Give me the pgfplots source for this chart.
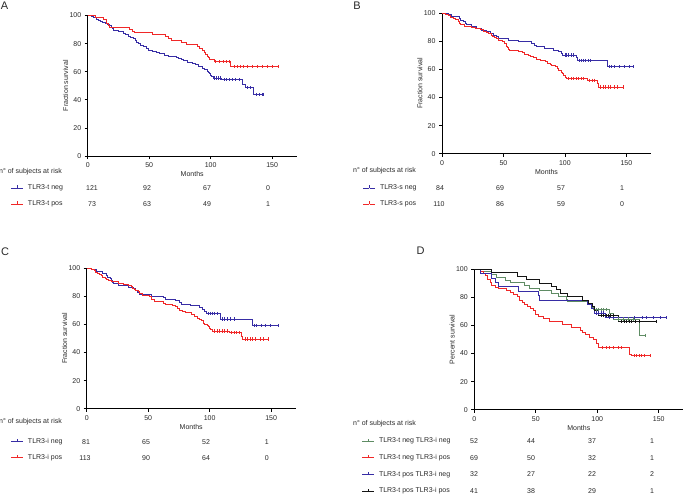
\documentclass[border=0pt]{standalone}
\usepackage{fontspec}
\setmainfont{Liberation Sans}
\usepackage{pgfplots}
\pgfplotsset{compat=1.18}
\definecolor{kmblue}{RGB}{55,45,165}
\definecolor{kmred}{RGB}{240,40,40}
\definecolor{kmgreen}{RGB}{95,140,100}
\definecolor{kmblack}{RGB}{20,20,20}
\definecolor{txt}{RGB}{40,40,40}
\newcommand{\sm}{\fontsize{7bp}{8bp}\selectfont}
\newcommand{\glyph}[1]{\textcolor{#1}{\rule[1.3bp]{5.5bp}{0.8bp}\rule[1.3bp]{0.8bp}{3bp}\rule[1.3bp]{5.5bp}{0.8bp}}}
\pgfplotsset{
  km/.style={scale only axis, width=209bp, height=140.5bp,
    xmin=0, xmax=170, ymin=0, ymax=100,
    axis lines*=left, axis line style={-, line width=0.9bp, black},
    tick align=outside, major tick length=3bp,
    tick style={line width=0.7bp, black},
    xtick={0,50,100,150}, ytick={0,20,40,60,80,100},
    tick label style={font=\sm, text=txt},
    /pgf/number format/assume math mode=true,
    xlabel={Months},
    xlabel style={font=\sm, text=txt, at={(axis description cs:0.5,0)}, anchor=center, yshift=-18bp},
    ylabel style={font=\sm, text=txt, at={(axis description cs:-0.106,0.5)}, anchor=center},
    clip=false},
  km line/.style={const plot, line width=0.8bp},
  cens/.style={only marks, mark=|, mark size=1.6bp, mark options={line width=0.7bp}, forget plot}
}
\begin{document}
\begin{tikzpicture}
\path[use as bounding box] (0,0) rectangle (685bp,-495bp);

% ---------------- A
\begin{axis}[km, at={(87.7bp,-156bp)}, anchor=south west, ylabel={Fraction survival}]
\addplot[km line, kmblue] coordinates {(0,100)(3,99.2)(5,98.3)(7,97.5)(9,96.7)(10,95.9)(12,95)(14,94.2)(16,93.4)(18,92.6)(19,91.7)(20,90.9)(21,89.3)(25,88.4)(29,87.6)(31,86.8)(33,85.1)(35,84.3)(37,83.5)(39,82.6)(40,81)(41,80.2)(43,78.5)(45,77.7)(48,76.9)(49,75.2)(53,74.4)(56,73.5)(58,72.7)(62,71.9)(66,71)(72,70.2)(74,69.4)(76,68.5)(78,67.7)(81,66.9)(85,66)(88,65.2)(90,63.5)(93,62.7)(95,61.8)(97,60.2)(98,59.3)(99,58.5)(100,57.6)(101,56.8)(102,55.5)(109,54.2)(126,50.8)(128,48.5)(135,43.8)(143,43.8)};
\addplot[cens, kmblue] coordinates {(103,55.5)(105,55.5)(106.5,55.5)(108,55.5)(111,54.2)(112.5,54.2)(115,54.2)(118,54.2)(120.5,54.2)(123,54.2)(130,48.5)(132.5,48.5)(137,43.8)(139.5,43.8)(142,43.8)(143,43.8)};
\addplot[km line, kmred] coordinates {(0,100)(6,98.6)(13,97.3)(15,94.5)(17,93.2)(18,91.8)(34,90.4)(36,89)(38,87.7)(53,86.3)(63,84.9)(66,83.5)(68,82.2)(76,80.8)(80,79.5)(89,78.1)(91,76.7)(93,75.3)(95,74)(96,72.6)(97,71.2)(98,69.9)(99,68.5)(103,67.1)(116,63.8)(155,63.8)};
\addplot[cens, kmred] coordinates {(104,67.1)(107,67.1)(110,67.1)(112.5,67.1)(115,67.1)(119,63.8)(122,63.8)(124.5,63.8)(127,63.8)(130,63.8)(134,63.8)(138,63.8)(142,63.8)(146,63.8)(150,63.8)(155,63.8)};
\end{axis}

% ---------------- B
\begin{axis}[km, at={(442bp,-153.7bp)}, anchor=south west, ylabel={Fraction survival}]
\addplot[km line, kmblue] coordinates {(0,100)(5,98.8)(8,97.6)(14,96.4)(15,95.2)(17,94)(19,92.9)(20,91.7)(24,90.5)(28,89.3)(32,88.1)(36,86.9)(39,85.7)(42,84.5)(44,83.3)(46,82.1)(54,80.9)(62,79.8)(73,78.6)(75,77.4)(77,76.2)(83,75)(91,73.8)(95,72.6)(97,71.4)(98,70.2)(109,68.5)(110,66.4)(134.6,61.8)(156,61.8)};
\addplot[cens, kmblue] coordinates {(100,70.2)(101.5,70.2)(103,70.2)(105,70.2)(107,70.2)(111.5,66.4)(113,66.4)(115,66.4)(117,66.4)(119,66.4)(121,66.4)(136,61.8)(138,61.8)(140,61.8)(144,61.8)(148,61.8)(152,61.8)(156,61.8)};
\addplot[km line, kmred] coordinates {(0,100)(3,99.1)(5,98.2)(7,97.3)(9,96.4)(11,95.5)(13,94.5)(14,92.7)(15,91.8)(18,90.9)(24,90)(27,89.1)(31,88.2)(34,87.3)(36,86.4)(38,85.5)(40,84.5)(41,83.6)(43,82.7)(44,81.8)(46,80.9)(49,80)(51,78.2)(52,76.4)(53,75.5)(54,74.5)(55,73.6)(62,72.7)(65,71.8)(67,70.9)(70,70)(72,69.1)(74,68.2)(77,67.3)(80,66.4)(84,65.5)(86,64.5)(88,63.6)(89,62.7)(92,61.8)(94,60.5)(95,59.4)(97,58.2)(98,57)(99,55.8)(100,54.6)(101,53.4)(118,52.3)(126,50)(127,47.5)(147.6,47.5)};
\addplot[cens, kmred] coordinates {(103,53.4)(105,53.4)(107,53.4)(109,53.4)(111,53.4)(113,53.4)(115,53.4)(120,52.3)(122,52.3)(124,52.3)(129,47.5)(131,47.5)(133,47.5)(135,47.5)(137,47.5)(140,47.5)(143,47.5)(147.6,47.5)};
\end{axis}

% ---------------- C
\begin{axis}[km, at={(86.7bp,-408.7bp)}, anchor=south west, ylabel={Fraction survival}]
\addplot[km line, kmblue] coordinates {(0,100)(4,98.8)(8,97.5)(13,96.3)(16,95.1)(17,93.8)(19,92.6)(20,91.4)(21,90.1)(22,88.9)(26,88)(34,86.6)(38,85.3)(40,84)(41,82.8)(43,81.5)(53,80.2)(62,79)(64,77.8)(72,77)(75,75.7)(77,74.5)(84,73.3)(92,72)(94,70.8)(96,69.5)(97.5,67.8)(108.7,63.8)(134.5,59.2)(156,59.2)};
\addplot[cens, kmblue] coordinates {(99,67.8)(100.5,67.8)(102,67.8)(104,67.8)(106,67.8)(110,63.8)(112,63.8)(114,63.8)(117,63.8)(120,63.8)(136,59.2)(138,59.2)(142,59.2)(145,59.2)(149,59.2)(156,59.2)};
\addplot[km line, kmred] coordinates {(0,100)(4,99.1)(6,98.2)(7,97.3)(9,96.5)(10,95.6)(12,94.7)(13,93.8)(15,92.9)(16,92)(18,91.2)(20,90.3)(26,89.4)(30,88.5)(34,87.6)(36,86.7)(37,85.8)(39,85)(40,84.1)(42,83.2)(43,82.3)(45,80.5)(51,79.6)(53,77.9)(55,76.1)(62,75.2)(64,74.3)(70,73.5)(72,72.6)(74,71.7)(75,70)(78,69.1)(80,68.2)(85,67.3)(88,65.5)(90,64.6)(92,63.7)(93,62.8)(95,61)(96,60.1)(98,59.2)(99,58.4)(100,57.5)(101,56.6)(102,55.3)(116,54)(126,51.5)(127,49.6)(147.5,49.6)};
\addplot[cens, kmred] coordinates {(104,55.3)(106,55.3)(108,55.3)(110,55.3)(112,55.3)(114,55.3)(118,54)(120,54)(122,54)(124,54)(129,49.6)(131,49.6)(133,49.6)(135,49.6)(137,49.6)(141,49.6)(144,49.6)(147.5,49.6)};
\end{axis}

% ---------------- D
\begin{axis}[km, at={(474.3bp,-409.7bp)}, anchor=south west, ylabel={Percent survival}]
\addplot[km line, kmgreen] coordinates {(0,100)(5,98.1)(14,96.2)(18,94.2)(25,92.3)(29,90.4)(41,88.5)(45,86.5)(53,84.6)(63,82.7)(68,80.8)(75,78.8)(76,76.9)(92,75)(95,73.1)(97,71.2)(110,68.2)(113,64.5)(134.5,53)(139.5,53)};
\addplot[cens, kmgreen] coordinates {(99,71.2)(101,71.2)(103,71.2)(105,71.2)(107,71.2)(117,64.5)(121,64.5)(125,64.5)(129,64.5)(139.5,53)};
\addplot[km line, kmred] coordinates {(0,100)(4.6,98.5)(7,97)(9,95.5)(11,93)(12.7,90.3)(14,88.5)(17,87.2)(20,86.2)(26,84.7)(29,83.3)(32,81.8)(35,80.5)(37,78)(39,76.5)(41,75)(43,73.5)(46,72)(48,70.5)(50,67.7)(52,66.2)(56,64.7)(61,63.2)(72,60.7)(79,58.8)(86,56.5)(88,55)(90,53.5)(93.5,51.5)(96.5,49.8)(99,47.5)(101,44.1)(126.3,39.5)(127.5,38.3)(143,38.3)};
\addplot[cens, kmred] coordinates {(104,44.1)(107,44.1)(110,44.1)(113,44.1)(117,44.1)(120,44.1)(130,38.3)(132,38.3)(134,38.3)(136,38.3)(138,38.3)(143,38.3)};
\addplot[km line, kmblue] coordinates {(0,100)(5,96.9)(14,93.8)(17,90.6)(19.5,87.5)(36,84.4)(52,81.3)(53,78.1)(92,75)(95,71.9)(97.5,68.8)(107,65.5)(156,65.5)};
\addplot[cens, kmblue] coordinates {(99,68.8)(101,68.8)(103,68.8)(105,68.8)(110,65.5)(113,65.5)(130,65.5)(137,65.5)(140,65.5)(146,65.5)(151,65.5)(156,65.5)};
\addplot[km line, kmblack] coordinates {(0,100)(14,97.6)(35,95.1)(42,92.7)(53,90.2)(63,87.8)(67,85.4)(70,82.9)(76,80.5)(88,78)(93,75.6)(96,73.2)(98,70.7)(101,67.2)(117,63)(148,63)};
\addplot[cens, kmblack] coordinates {(103,67.2)(105,67.2)(107,67.2)(109,67.2)(111,67.2)(113,67.2)(120,63)(122,63)(124,63)(126,63)(128,63)(131,63)(134,63)(148,63)};
\end{axis}

% panel letters
\begin{scope}[every node/.style={font=\fontsize{11bp}{12bp}\selectfont, text=txt, inner sep=0}]
\node at (4.5bp,-6bp) {A};
\node at (357bp,-6bp) {B};
\node at (5bp,-252bp) {C};
\node at (420.5bp,-251bp) {D};
\end{scope}

% risk tables
\begin{scope}[every node/.style={font=\sm, text=txt, inner sep=0}]
% A
\node[anchor=west] at (-1bp,-172bp) {n° of subjects at risk};
\node[anchor=west] at (11bp,-188bp) {\glyph{kmblue}\hspace{5bp}TLR3-t neg};
\node[anchor=west] at (11bp,-204bp) {\glyph{kmred}\hspace{5bp}TLR3-t pos};
\foreach \x/\n in {92/121,147/92,207/67,268/0} \node at (\x bp,-188bp) {\n};
\foreach \x/\n in {92/73,147/63,207/49,268/1} \node at (\x bp,-204bp) {\n};
% B
\node[anchor=west] at (353bp,-171bp) {n° of subjects at risk};
\node[anchor=west] at (363bp,-188bp) {\glyph{kmblue}\hspace{5bp}TLR3-s neg};
\node[anchor=west] at (363bp,-204bp) {\glyph{kmred}\hspace{5bp}TLR3-s pos};
\foreach \x/\n in {440/84,500/69,561/57,622/1} \node at (\x bp,-188bp) {\n};
\foreach \x/\n in {439/110,500/86,561/59,622/0} \node at (\x bp,-204bp) {\n};
% C
\node[anchor=west] at (-1bp,-422bp) {n° of subjects at risk};
\node[anchor=west] at (11bp,-441.7bp) {\glyph{kmblue}\hspace{5bp}TLR3-i neg};
\node[anchor=west] at (11bp,-457.7bp) {\glyph{kmred}\hspace{5bp}TLR3-i pos};
\foreach \x/\n in {86/81,146/65,206/52,266.7/1} \node at (\x bp,-441.7bp) {\n};
\foreach \x/\n in {85/113,146/90,206/64,266.7/0} \node at (\x bp,-457.7bp) {\n};
% D
\node[anchor=west] at (353bp,-424bp) {n° of subjects at risk};
\node[anchor=west] at (362bp,-441bp) {\glyph{kmgreen}\hspace{5bp}TLR3-t neg TLR3-i neg};
\node[anchor=west] at (362bp,-457.7bp) {\glyph{kmred}\hspace{5bp}TLR3-t neg TLR3-i pos};
\node[anchor=west] at (362bp,-474.3bp) {\glyph{kmblue}\hspace{5bp}TLR3-t pos TLR3-i neg};
\node[anchor=west] at (362bp,-491bp) {\glyph{kmblack}\hspace{5bp}TLR3-t pos TLR3-i pos};
\foreach \x/\n in {474/52,531/44,592/37,652/1} \node at (\x bp,-441bp) {\n};
\foreach \x/\n in {474/69,531/50,592/32,652/1} \node at (\x bp,-457.7bp) {\n};
\foreach \x/\n in {474/32,531/27,592/22,652/2} \node at (\x bp,-474.3bp) {\n};
\foreach \x/\n in {474/41,531/38,592/29,652/1} \node at (\x bp,-491bp) {\n};
\end{scope}
\end{tikzpicture}
\end{document}
